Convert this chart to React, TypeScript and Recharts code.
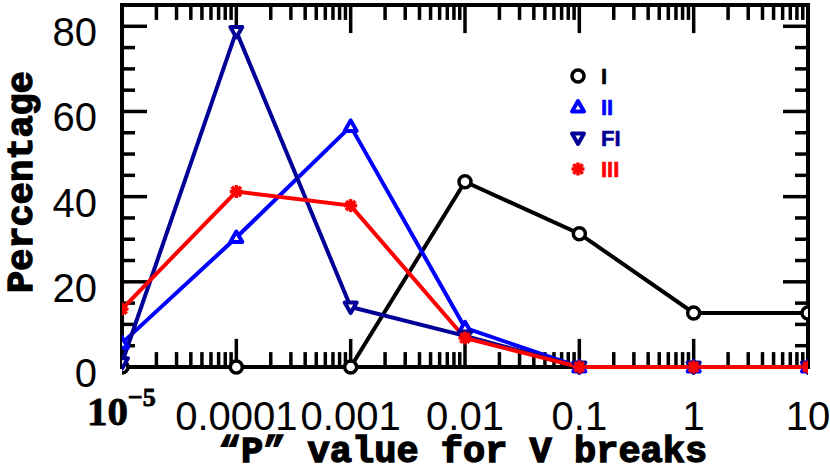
import { LineChart, Line, XAxis, YAxis, ReferenceLine, ReferenceArea, Label } from 'recharts';

// "P" values (log axis) and percentages per class
const pValues = [1e-5, 1e-4, 1e-3, 0.01, 0.1, 1, 10];
const xTickLabels = ['10', '0.0001', '0.001', '0.01', '0.1', '1', '10'];
const seriesI = [0, 0, 0, 43.5, 31.3, 12.7, 12.7];
const seriesII = [5.6, 30.4, 56.5, 9.2, 0, 0, 0];
const seriesFI = [1, 78.8, 14.1, 7.3, 0, 0, 0];
const seriesIII = [13.6, 41.2, 37.9, 6.8, 0, 0, 0];
const seriesNames = ['I', 'II', 'FI', 'III'];
const yTicks = [0, 20, 40, 60, 80];
const yMinorTicks = [5, 10, 15, 25, 30, 35, 45, 50, 55, 65, 70, 75];

const data = pValues.map((p, i) => ({
  p,
  I: seriesI[i],
  II: seriesII[i],
  FI: seriesFI[i],
  III: seriesIII[i],
}));

const series = [
  { key: 'I', color: '#000000', shape: 'circle' },
  { key: 'II', color: '#0000ff', shape: 'up' },
  { key: 'FI', color: '#000096', shape: 'down' },
  { key: 'III', color: '#ff0000', shape: 'star' },
];

const X_MIN = 1e-5;
const X_MAX = 10;
const Y_MAX = 85;

// tick lengths (bottom/top in y units, left/right as a log factor)
const V_MAJOR = 6.6;
const V_MINOR = 3.5;
const H_MAJOR = 1.655;
const H_MINOR = 1.3;

const decades = pValues.slice(0, -1);
const xMajorInner = pValues.slice(1, -1);
const xMinorTicks = decades.flatMap((d) => [2, 3, 4, 5, 6, 7, 8, 9].map((m) => m * d));

function Marker({ cx, cy, shape, color }: any) {
  if (cx == null || cy == null) return null;
  if (shape === 'circle') {
    return <circle cx={cx} cy={cy} r={6} fill="#fff" stroke={color} strokeWidth={3.5} />;
  }
  if (shape === 'up') {
    const pts = `${cx},${cy - 6} ${cx - 6},${cy + 4.5} ${cx + 6},${cy + 4.5}`;
    return <polygon points={pts} fill="#fff" stroke={color} strokeWidth={4} strokeLinejoin="round" />;
  }
  if (shape === 'down') {
    const pts = `${cx},${cy + 6} ${cx - 6},${cy - 4.5} ${cx + 6},${cy - 4.5}`;
    return <polygon points={pts} fill="#fff" stroke={color} strokeWidth={4} strokeLinejoin="round" />;
  }
  const r = 6.5;
  const d = r * 0.72;
  return (
    <g stroke={color} strokeWidth={3.5}>
      <line x1={cx - r} y1={cy} x2={cx + r} y2={cy} />
      <line x1={cx} y1={cy - r} x2={cx} y2={cy + r} />
      <line x1={cx - d} y1={cy - d} x2={cx + d} y2={cy + d} />
      <line x1={cx - d} y1={cy + d} x2={cx + d} y2={cy - d} />
      <circle cx={cx} cy={cy} r={3} fill={color} stroke="none" />
    </g>
  );
}

function XTick({ x, y, payload }: any) {
  const i = pValues.indexOf(payload.value);
  if (i === 0) {
    return (
      <text x={x - 35} y={y + 58} fontFamily="Liberation Serif" fontWeight="bold" fontSize={41} fill="#000" stroke="#000" strokeWidth={0.8}>
        {xTickLabels[i]}
        <tspan dy={-19} fontSize={26}>−5</tspan>
      </text>
    );
  }
  return (
    <text x={x} y={y + 63} textAnchor="middle" fontFamily="Liberation Sans" fontSize={40} fill="#000">
      {xTickLabels[i]}
    </text>
  );
}

function YTick({ x, y, payload }: any) {
  return (
    <text x={x} y={y + 20} textAnchor="end" fontFamily="Liberation Sans" fontSize={40} fill="#000">
      {payload.value}
    </text>
  );
}

const titleFont = {
  fontFamily: 'Liberation Mono',
  fontWeight: 'bold' as const,
  fontSize: 37,
  fill: '#000',
  stroke: '#000',
  strokeWidth: 1.4,
};

function App() {
  const tickStroke = { stroke: '#000', strokeWidth: 3.5 };
  return (
    <div style={{ position: 'absolute', left: 0, top: 0, width: 830, height: 470, background: '#fff' }}>
      <LineChart width={830} height={470} data={data} margin={{ top: 5, right: 22, bottom: 43, left: 12 }}>
        <XAxis
          dataKey="p"
          type="number"
          scale="log"
          domain={[X_MIN, X_MAX]}
          allowDataOverflow
          ticks={pValues}
          interval={0}
          height={60}
          tickSize={0}
          tickMargin={0}
          tickLine={false}
          axisLine={false}
          tick={(props: any) => <XTick {...props} />}
        >
          <Label
            content={({ viewBox }: any) => (
              <text x={viewBox.x + viewBox.width / 2 - 2} y={462} textAnchor="middle" {...titleFont}>
                “P” value for V breaks
              </text>
            )}
          />
        </XAxis>
        <YAxis
          type="number"
          domain={[0, Y_MAX]}
          ticks={yTicks}
          interval={0}
          width={110}
          tickSize={0}
          tickMargin={25}
          tickLine={false}
          axisLine={false}
          tick={(props: any) => <YTick {...props} />}
        >
          <Label
            content={({ viewBox }: any) => {
              const cy = viewBox.y + viewBox.height / 2 - 4;
              return (
                <text x={32} y={cy} textAnchor="middle" transform={`rotate(-90 32 ${cy})`} {...titleFont}>
                  Percentage
                </text>
              );
            }}
          />
        </YAxis>

        {xMajorInner.map((t) => (
          <ReferenceLine key={`bM${t}`} segment={[{ x: t, y: 0 }, { x: t, y: V_MAJOR }]} {...tickStroke} ifOverflow="visible" />
        ))}
        {xMinorTicks.map((t) => (
          <ReferenceLine key={`bm${t}`} segment={[{ x: t, y: 0 }, { x: t, y: V_MINOR }]} {...tickStroke} ifOverflow="visible" />
        ))}
        {xMajorInner.map((t) => (
          <ReferenceLine key={`tM${t}`} segment={[{ x: t, y: Y_MAX }, { x: t, y: Y_MAX - V_MAJOR }]} {...tickStroke} ifOverflow="visible" />
        ))}
        {xMinorTicks.map((t) => (
          <ReferenceLine key={`tm${t}`} segment={[{ x: t, y: Y_MAX }, { x: t, y: Y_MAX - V_MINOR }]} {...tickStroke} ifOverflow="visible" />
        ))}
        {yTicks.slice(1).map((t) => (
          <ReferenceLine key={`lM${t}`} segment={[{ x: X_MIN, y: t }, { x: X_MIN * H_MAJOR, y: t }]} {...tickStroke} ifOverflow="visible" />
        ))}
        {yMinorTicks.map((t) => (
          <ReferenceLine key={`lm${t}`} segment={[{ x: X_MIN, y: t }, { x: X_MIN * H_MINOR, y: t }]} {...tickStroke} ifOverflow="visible" />
        ))}
        {yTicks.slice(1).map((t) => (
          <ReferenceLine key={`rM${t}`} segment={[{ x: X_MAX, y: t }, { x: X_MAX / H_MAJOR, y: t }]} {...tickStroke} ifOverflow="visible" />
        ))}
        {yMinorTicks.map((t) => (
          <ReferenceLine key={`rm${t}`} segment={[{ x: X_MAX, y: t }, { x: X_MAX / H_MINOR, y: t }]} {...tickStroke} ifOverflow="visible" />
        ))}
        <ReferenceArea
          x1={X_MIN}
          x2={X_MAX}
          y1={0}
          y2={Y_MAX}
          fill="none"
          fillOpacity={0}
          stroke="#000"
          strokeWidth={4}
          ifOverflow="visible"
        />

        {series.map((s) => (
          <Line
            key={s.key}
            dataKey={s.key}
            name={s.key}
            type="linear"
            stroke={s.color}
            strokeWidth={4}
            isAnimationActive={false}
            activeDot={false}
            dot={(props: any) => (
              <Marker key={`${s.key}-${props.index}`} cx={props.cx} cy={props.cy} shape={s.shape} color={s.color} />
            )}
          />
        ))}
      </LineChart>

      <svg
        width={830}
        height={470}
        style={{ position: 'absolute', left: 0, top: 0, pointerEvents: 'none' }}
      >
        {series.map((s, i) => {
          const y = 76 + i * 31;
          return (
            <g key={s.key}>
              <Marker cx={578} cy={y} shape={s.shape} color={s.color} />
              <text
                x={601}
                y={y + 8}
                fontFamily="Liberation Sans"
                fontWeight="bold"
                fontSize={22}
                fill={s.color}
                stroke={s.color}
                strokeWidth={0.6}
              >
                {seriesNames[i]}
              </text>
            </g>
          );
        })}
      </svg>
    </div>
  );
}

export default App;
